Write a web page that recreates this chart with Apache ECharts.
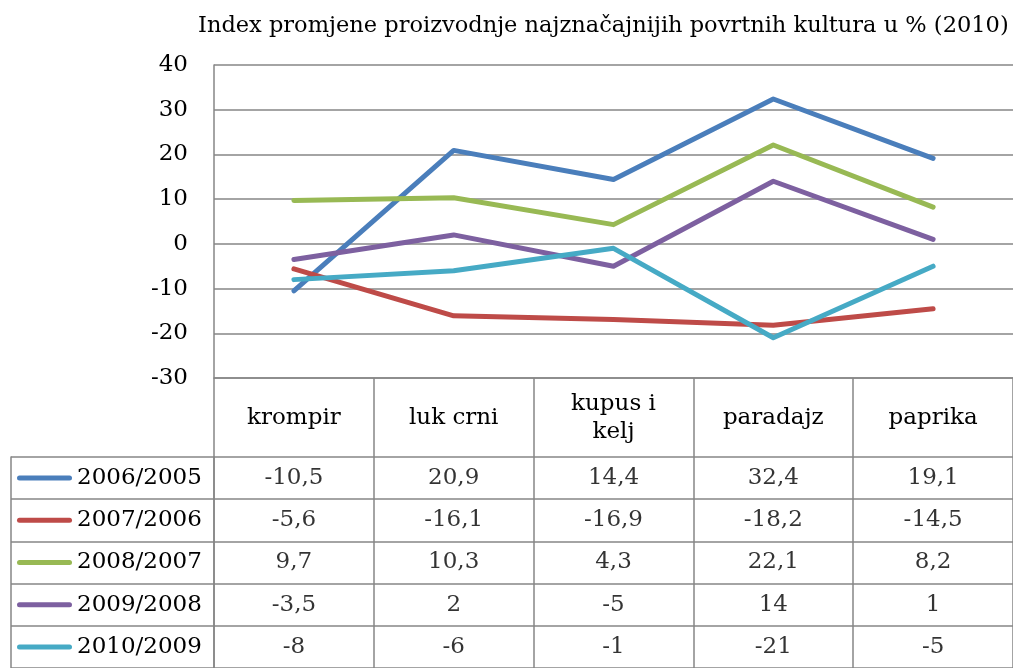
<!DOCTYPE html>
<html>
<head>
<meta charset="utf-8">
<script src="https://cdn.jsdelivr.net/npm/echarts@6/dist/echarts.min.js"></script>
<style>
  html, body { margin: 0; padding: 0; background: #fff; }
  #chart { width: 1013px; height: 668px; }
</style>
</head>
<body>
<div id="chart"></div>
<script>
const categories = ['krompir', 'luk crni', 'kupus i\nkelj', 'paradajz', 'paprika']
const seriesNames = ['2006/2005', '2007/2006', '2008/2007', '2009/2008', '2010/2009']
const v2006 = [-10.5, 20.9, 14.4, 32.4, 19.1]
const v2007 = [-5.6, -16.1, -16.9, -18.2, -14.5]
const v2008 = [9.7, 10.3, 4.3, 22.1, 8.2]
const v2009 = [-3.5, 2, -5, 14, 1]
const v2010 = [-8, -6, -1, -21, -5]
const yMin = -30, yMax = 40, yStep = 10

const rows = [v2006, v2007, v2008, v2009, v2010]
const colors = ['#4A7EBB', '#BE4B48', '#98B954', '#7D60A0', '#46AAC5']
const font = 'DejaVu Serif'
const gridColor = '#868686'
const fs = 23

const chart = echarts.init(document.getElementById('chart'))

// cells of the data table
const cells = []
rows.forEach((row, r) => {
    row.forEach((v, c) => cells.push([c, r, v]))
})

const rich = { t: { fontFamily: font, fontSize: fs, color: '#000', padding: [0, 0, 0, 5] } }
colors.forEach((col, i) => {
    rich['k' + i] = { width: 55, height: 5, backgroundColor: col, borderRadius: 2.5 }
})

const option = {
    animation: false,
    title: {
        text: 'Index promjene proizvodnje najznačajnijih povrtnih kultura u % (2010)',
        left: 193,
        top: 10,
        textStyle: { fontFamily: font, fontSize: 22.5, fontWeight: 'normal', color: '#000' }
    },
    grid: [
        { left: 214, top: 65, width: 803, height: 313 },
        { left: 214, top: 457, width: 803, height: 214 },
        { left: 11, top: 457, width: 203, height: 214 }
    ],
    xAxis: [
        {
            type: 'category',
            gridIndex: 0,
            data: categories,
            boundaryGap: true,
            axisLine: { show: true, onZero: false, lineStyle: { color: gridColor, width: 1.5 } },
            axisTick: { show: true, interval: 0, length: 79, lineStyle: { color: gridColor, width: 1.5 } },
            axisLabel: {
                interval: 0, margin: 40, verticalAlign: 'middle',
                fontFamily: font, fontSize: fs, lineHeight: 28, color: '#000'
            }
        },
        {
            type: 'category',
            gridIndex: 1,
            data: categories,
            axisLine: { show: false },
            axisTick: { show: false },
            axisLabel: { show: false },
            splitLine: { show: true, interval: 0, lineStyle: { color: gridColor, width: 1.5 } }
        },
        {
            type: 'category',
            gridIndex: 2,
            data: [''],
            axisLine: { show: false },
            axisTick: { show: false },
            axisLabel: { show: false }
        }
    ],
    yAxis: [
        {
            type: 'value',
            gridIndex: 0,
            min: yMin,
            max: yMax,
            interval: yStep,
            axisLine: { show: true, lineStyle: { color: gridColor, width: 1.5 } },
            axisTick: { show: false },
            axisLabel: { margin: 26, fontFamily: font, fontSize: fs, color: '#000' },
            splitLine: { lineStyle: { color: gridColor, width: 1.5 } }
        },
        {
            type: 'category',
            gridIndex: 1,
            data: seriesNames,
            inverse: true,
            axisLine: { show: true, lineStyle: { color: gridColor, width: 1.5 } },
            axisTick: { show: false },
            axisLabel: { show: false },
            splitLine: { show: true, interval: 0, lineStyle: { color: gridColor, width: 1.5 } }
        },
        {
            type: 'category',
            gridIndex: 2,
            data: seriesNames,
            inverse: true,
            axisLine: { show: true, lineStyle: { color: gridColor, width: 1.5 } },
            axisTick: { show: false },
            splitLine: { show: true, interval: 0, lineStyle: { color: gridColor, width: 1.5 } },
            axisLabel: {
                inside: true,
                margin: 6,
                interval: 0,
                formatter: (v, i) => '{k' + i + '|}{t|' + v + '}',
                rich: rich
            }
        }
    ],
    series: rows.map((row, i) => ({
        name: seriesNames[i],
        type: 'line',
        xAxisIndex: 0,
        yAxisIndex: 0,
        data: row,
        symbol: 'none',
        lineStyle: { color: colors[i], width: 5, cap: 'round', join: 'round' },
        z: 3
    })).concat([{
        type: 'scatter',
        xAxisIndex: 1,
        yAxisIndex: 1,
        data: cells,
        symbolSize: 1,
        itemStyle: { color: 'rgba(0,0,0,0)' },
        label: {
            show: true,
            position: 'inside',
            fontFamily: font,
            fontSize: fs,
            color: '#000',
            formatter: p => String(p.value[2]).replace('.', ',')
        }
    }])
}

chart.setOption(option)
</script>
</body>
</html>
